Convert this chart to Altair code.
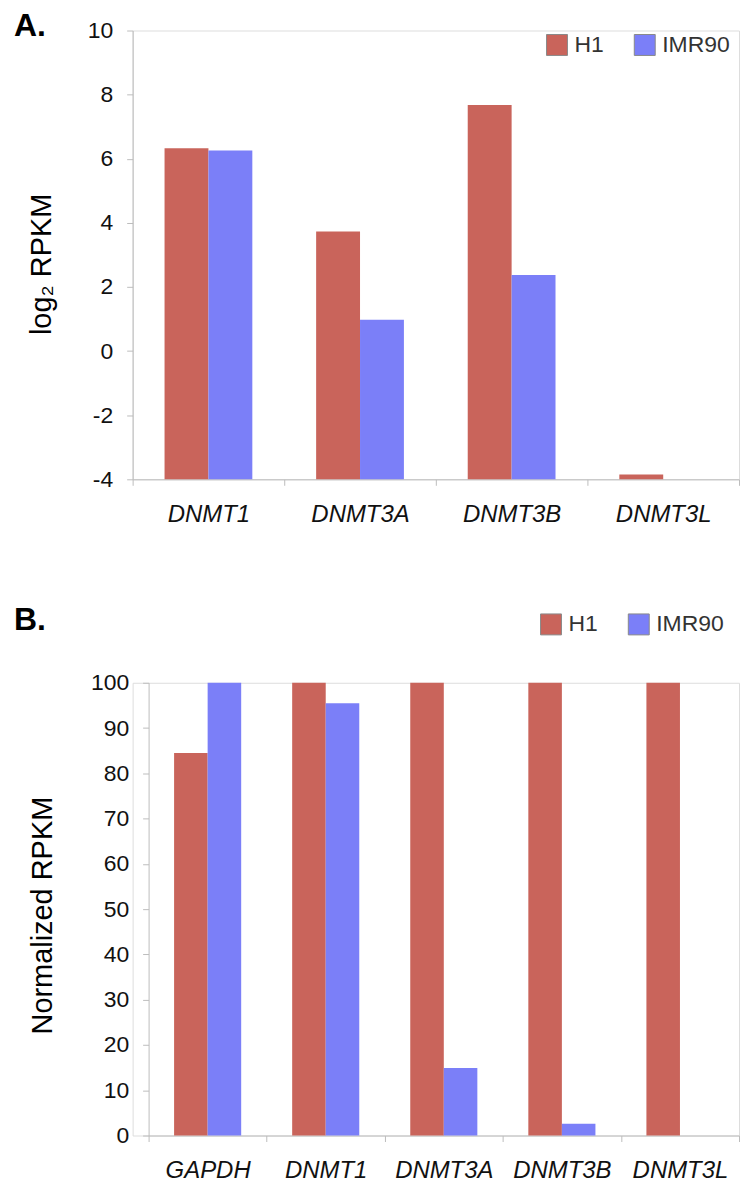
import altair as alt
import pandas as pd

genes_a = ["DNMT1", "DNMT3A", "DNMT3B", "DNMT3L"]
h1_a = [6.33, 3.73, 7.68, -3.85]
imr90_a = [6.26, 0.98, 2.37, None]
ticks_a = [-4, -2, 0, 2, 4, 6, 8, 10]

genes_b = ["GAPDH", "DNMT1", "DNMT3A", "DNMT3B", "DNMT3L"]
h1_b = [84.5, 100, 100, 100, 100]
imr90_b = [100, 95.5, 14.9, 2.6, 0]
ticks_b = [0, 10, 20, 30, 40, 50, 60, 70, 80, 90, 100]

cells = ["H1", "IMR90"]
colors = ["#C9645B", "#7B7FF8"]

FONT = "Liberation Sans"
AXIS_GRAY = "#BDBDBD"
W = 608


def long_table(genes, h1, imr):
    rows = []
    for g, a, b in zip(genes, h1, imr):
        rows.append({"gene": g, "cell": "H1", "value": a})
        rows.append({"gene": g, "cell": "IMR90", "value": b})
    return pd.DataFrame(rows)


def panel(df, genes, ticks, domain, base, title, height, x_start, off_pad,
          leg_x, leg_y, letter, letter_y, title_pad, title_y):
    color = alt.Color(
        "cell:N",
        scale=alt.Scale(domain=cells, range=colors),
        legend=alt.Legend(
            title=None, orient="none", legendX=leg_x, legendY=leg_y,
            direction="horizontal", symbolType="square", symbolSize=441,
            symbolStrokeColor="#8A8A8A", symbolStrokeWidth=1, symbolOpacity=1,
            labelFont=FONT, labelFontSize=23, labelColor="#333333",
            labelOffset=6, columnPadding=28,
        ),
    )
    bars = alt.Chart(df).mark_bar().encode(
        x=alt.X(
            "gene:N", sort=genes,
            scale=alt.Scale(paddingInner=0, paddingOuter=0, range=[x_start, W]),
            axis=alt.Axis(
                title=None, labelAngle=0, tickBand="extent",
                labelFontStyle="italic", labelFont=FONT, labelFontSize=24,
                labelColor="#111111", labelPadding=17, tickSize=6,
                domainColor=AXIS_GRAY, tickColor=AXIS_GRAY,
            ),
        ),
        xOffset=alt.XOffset(
            "cell:N", sort=cells,
            scale=alt.Scale(paddingInner=0, paddingOuter=off_pad),
        ),
        y=alt.Y(
            "value:Q",
            scale=alt.Scale(domain=domain, nice=False, zero=False),
            axis=alt.Axis(
                values=ticks, title=title, grid=False, offset=-x_start,
                labelExpr="'' + datum.value",
                labelFont=FONT, labelFontSize=23, labelColor="#111111",
                labelPadding=14, tickSize=6,
                domainColor=AXIS_GRAY, tickColor=AXIS_GRAY,
                titleFont=FONT, titleFontSize=29, titleFontWeight="normal",
                titleColor="#000000", titlePadding=title_pad, titleY=title_y,
            ),
        ),
        y2=alt.datum(base),
        color=color,
    ).properties(width=W, height=height)

    label = alt.Chart(pd.DataFrame({"t": [letter]})).mark_text(
        font=FONT, fontSize=32, fontWeight="bold", align="left",
        baseline="top", color="#000000",
    ).encode(text="t:N", x=alt.value(-119), y=alt.value(letter_y))

    return alt.layer(bars, label)


df_a = long_table(genes_a, h1_a, imr90_a)
df_b = long_table(genes_b, h1_b, imr90_b)

panel_a = panel(df_a, genes_a, ticks_a, [-4, 10], -4, "log₂ RPKM", 450, 0,
                0.727, 414, 3, "A.", -20, 31, 234)
panel_b = panel(df_b, genes_b, ticks_b, [0, 100], 0, "Normalized RPKM", 454, 16,
                0.76, 408, -70, "B.", -78, 33, 233)

chart = alt.concat(panel_a, panel_b, columns=1, spacing=76).resolve_scale(
    color="independent", x="independent", xOffset="independent", y="independent"
).properties(
    padding={"left": 13, "top": 7, "right": 0, "bottom": 0}
).configure_view(stroke=None).configure(background="white")

chart.save("out.html", embed_options={"renderer": "svg", "actions": False})
